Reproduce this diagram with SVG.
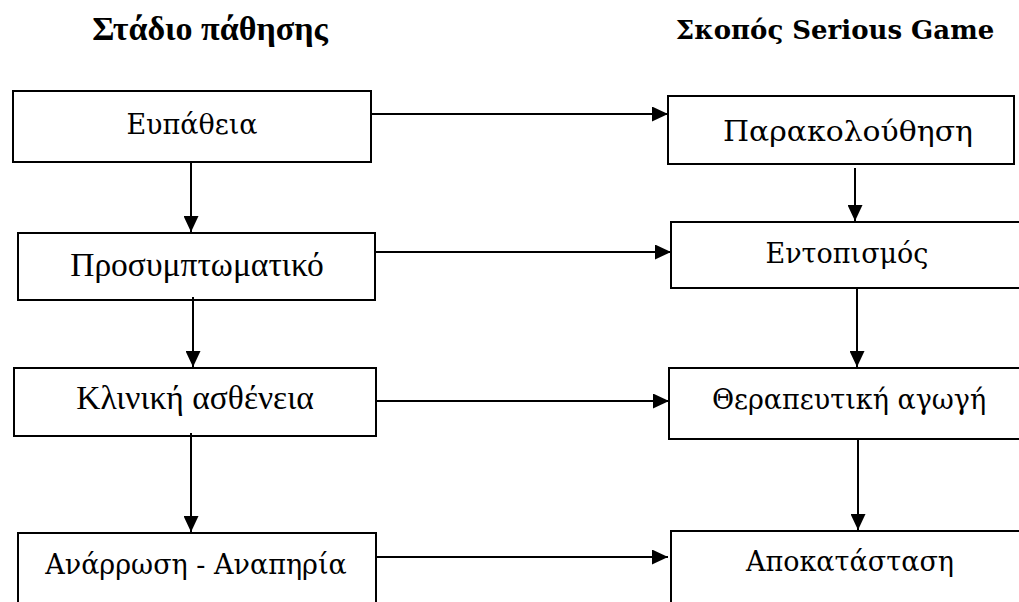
<svg xmlns="http://www.w3.org/2000/svg" width="1019" height="602" viewBox="0 0 1019 602">
<style>
.box{fill:#fff;stroke:#000;stroke-width:2}
.cam{font-family:"DejaVu Serif","Liberation Serif",serif;font-size:27px;fill:#000;text-anchor:middle}
.tnr{font-family:"Liberation Serif",serif;font-size:33.5px;fill:#000;text-anchor:middle}
.t1{font-family:"Liberation Serif",serif;font-size:34px;font-weight:bold;fill:#000;text-anchor:middle}
.t2{font-family:"DejaVu Serif","Liberation Serif",serif;font-size:26px;font-weight:bold;fill:#000;text-anchor:middle}
.con line{stroke:#000;stroke-width:2;marker-end:url(#arr)}
</style>
<defs>
<marker id="arr" markerUnits="userSpaceOnUse" markerWidth="16" markerHeight="15" refX="16" refY="7.5" orient="auto">
<path d="M0,0 L16,7.5 L0,15 z" fill="#000"/>
</marker>
</defs>
<rect width="1019" height="602" fill="#fff"/>
<g id="titles">
<text class="t1" x="210" y="40">Στάδιο πάθησης</text>
<text class="t2" x="835" y="39">Σκοπός Serious Game</text>
</g>
<g id="n-eupatheia"><rect class="box" x="13" y="91" width="358" height="71"/><text class="cam" x="192" y="134">Ευπάθεια</text></g>
<g id="n-prosymptomatiko"><rect class="box" x="18" y="233" width="357" height="67"/><text class="tnr" x="197" y="276">Προσυμπτωματικό</text></g>
<g id="n-kliniki"><rect class="box" x="14" y="368" width="362" height="68"/><text class="tnr" x="195" y="409">Κλινική ασθένεια</text></g>
<g id="n-anarrosi"><rect class="box" x="18" y="533" width="358" height="80"/><text class="cam" x="196" y="574">Ανάρρωση - Αναπηρία</text></g>
<g id="n-parakolouthisi"><rect class="box" x="668" y="96" width="346" height="68"/><text class="cam" x="848" y="141" textLength="250" lengthAdjust="spacingAndGlyphs">Παρακολούθηση</text></g>
<g id="n-entopismos"><rect class="box" x="671" y="222" width="360" height="66"/><text class="cam" x="847" y="263">Εντοπισμός</text></g>
<g id="n-therapeutiki"><rect class="box" x="669" y="368" width="360" height="71"/><text class="cam" x="849" y="409">Θεραπευτική αγωγή</text></g>
<g id="n-apokatastasi"><rect class="box" x="671" y="531" width="360" height="80"/><text class="cam" x="850" y="571">Αποκατάσταση</text></g>
<g id="connectors" class="con">
<line x1="372" y1="114" x2="668" y2="114"/>
<line x1="376" y1="252" x2="671" y2="252"/>
<line x1="377" y1="401" x2="669" y2="401"/>
<line x1="377" y1="557" x2="668" y2="557"/>
<line x1="191" y1="163" x2="191" y2="232"/>
<line x1="193" y1="297" x2="193" y2="367"/>
<line x1="191" y1="433" x2="191" y2="532"/>
<line x1="855" y1="168" x2="855" y2="221"/>
<line x1="857" y1="289" x2="857" y2="367"/>
<line x1="858" y1="440" x2="858" y2="530"/>
</g>
</svg>
